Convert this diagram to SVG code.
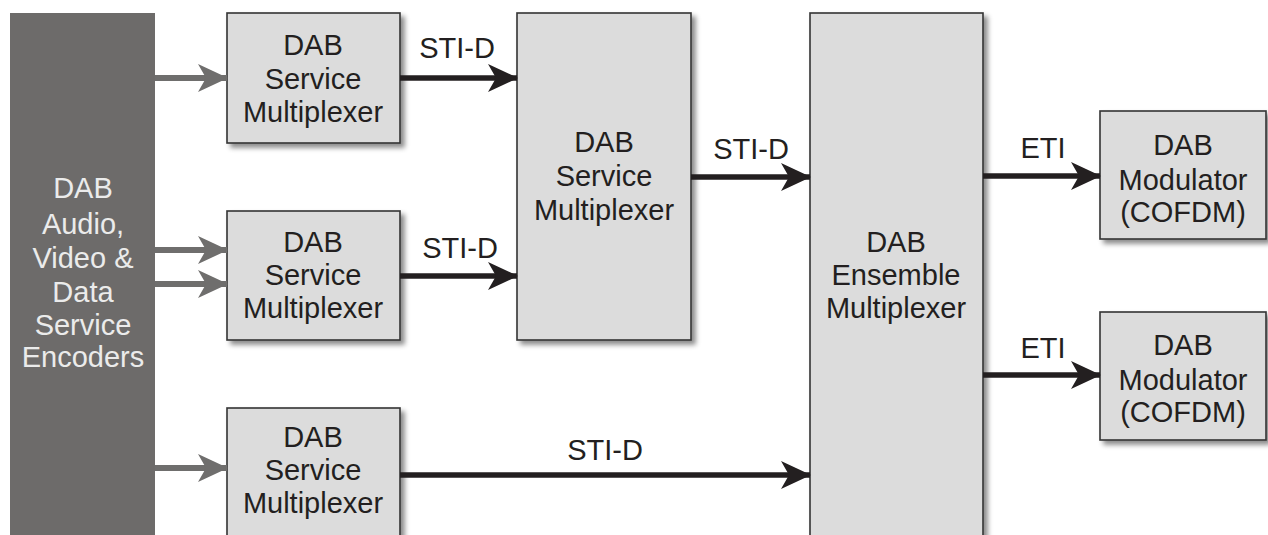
<svg xmlns="http://www.w3.org/2000/svg" width="1268" height="535" viewBox="0 0 1268 535">
<defs>
<filter id="sh" x="-10%" y="-10%" width="130%" height="130%">
<feDropShadow dx="4" dy="4" stdDeviation="2.5" flood-color="#000" flood-opacity="0.45"/>
</filter>
<marker id="ab" markerUnits="userSpaceOnUse" markerWidth="30" markerHeight="28" refX="29" refY="14" orient="auto">
<path d="M0,0 L30,14 L0,28 L8,14 Z" fill="#231f20"/>
</marker>
<marker id="ag" markerUnits="userSpaceOnUse" markerWidth="30" markerHeight="28" refX="29" refY="14" orient="auto">
<path d="M0,0 L30,14 L0,28 L8,14 Z" fill="#6f6e6d"/>
</marker>
<style>
.box{fill:#dcdcdc;stroke:#333;stroke-width:1.6;filter:url(#sh)}
.t{font-family:"Liberation Sans",Arial,sans-serif;font-size:29px;fill:#231f20;text-anchor:middle}
.w{fill:#ebebeb}
.bk{stroke:#231f20;stroke-width:5.5;fill:none;marker-end:url(#ab)}
.gr{stroke:#6f6e6d;stroke-width:6;fill:none;marker-end:url(#ag)}
</style>
</defs>
<rect width="1268" height="535" fill="#fff"/>
<g id="encoders">
<rect x="10" y="13" width="145" height="530" fill="#6d6b6a"/>
<text class="t w" x="83" y="198">DAB</text>
<text class="t w" x="83" y="234">Audio,</text>
<text class="t w" x="83" y="268">Video &amp;</text>
<text class="t w" x="83" y="302">Data</text>
<text class="t w" x="83" y="335">Service</text>
<text class="t w" x="83" y="367">Encoders</text>
</g>
<g id="smux1">
<rect class="box" x="227" y="13" width="173" height="130"/>
<text class="t" x="313" y="55">DAB</text>
<text class="t" x="313" y="89">Service</text>
<text class="t" x="313" y="122">Multiplexer</text>
</g>
<g id="smux2">
<rect class="box" x="227" y="211" width="173" height="129"/>
<text class="t" x="313" y="252">DAB</text>
<text class="t" x="313" y="285">Service</text>
<text class="t" x="313" y="318">Multiplexer</text>
</g>
<g id="smux3">
<rect class="box" x="227" y="408" width="173" height="140"/>
<text class="t" x="313" y="447">DAB</text>
<text class="t" x="313" y="480">Service</text>
<text class="t" x="313" y="513">Multiplexer</text>
</g>
<g id="smux4">
<rect class="box" x="517" y="13" width="174" height="327"/>
<text class="t" x="604" y="152">DAB</text>
<text class="t" x="604" y="186">Service</text>
<text class="t" x="604" y="220">Multiplexer</text>
</g>
<g id="ensemble">
<rect class="box" x="810" y="13" width="173" height="535"/>
<text class="t" x="896" y="252">DAB</text>
<text class="t" x="896" y="285">Ensemble</text>
<text class="t" x="896" y="318">Multiplexer</text>
</g>
<g id="mod1">
<rect class="box" x="1100" y="111" width="166" height="128"/>
<text class="t" x="1183" y="155">DAB</text>
<text class="t" x="1183" y="190">Modulator</text>
<text class="t" x="1183" y="222">(COFDM)</text>
</g>
<g id="mod2">
<rect class="box" x="1100" y="312" width="166" height="128"/>
<text class="t" x="1183" y="355">DAB</text>
<text class="t" x="1183" y="390">Modulator</text>
<text class="t" x="1183" y="422">(COFDM)</text>
</g>
<g id="connectors">
<line class="gr" x1="155" y1="78" x2="227" y2="78"/>
<line class="gr" x1="155" y1="250" x2="227" y2="250"/>
<line class="gr" x1="155" y1="284" x2="227" y2="284"/>
<line class="gr" x1="155" y1="468" x2="227" y2="468"/>
<line class="bk" x1="400" y1="78" x2="517" y2="78"/>
<line class="bk" x1="400" y1="276" x2="517" y2="276"/>
<line class="bk" x1="400" y1="475" x2="810" y2="475"/>
<line class="bk" x1="691" y1="177" x2="810" y2="177"/>
<line class="bk" x1="983" y1="176" x2="1100" y2="176"/>
<line class="bk" x1="983" y1="375" x2="1100" y2="375"/>
<text class="t" x="457" y="58">STI-D</text>
<text class="t" x="460" y="258">STI-D</text>
<text class="t" x="751" y="159">STI-D</text>
<text class="t" x="605" y="460">STI-D</text>
<text class="t" x="1043" y="158">ETI</text>
<text class="t" x="1043" y="358">ETI</text>
</g>
</svg>
